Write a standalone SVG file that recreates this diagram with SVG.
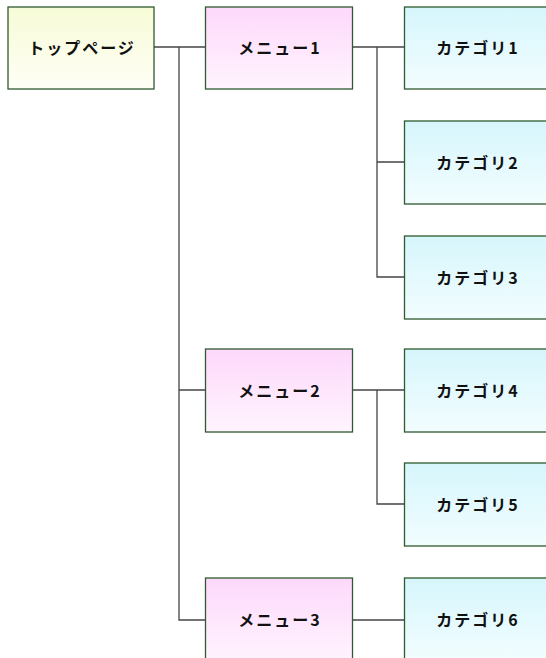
<svg xmlns="http://www.w3.org/2000/svg" width="546" height="658" viewBox="0 0 546 658">
<defs>
<linearGradient id="gTop" x1="0" y1="0" x2="0" y2="1"><stop offset="0" stop-color="#f6fbd6"/><stop offset="1" stop-color="#fffff6"/></linearGradient>
<linearGradient id="gMenu" x1="0" y1="0" x2="0" y2="1"><stop offset="0" stop-color="#fdd8fb"/><stop offset="1" stop-color="#fff4fe"/></linearGradient>
<linearGradient id="gCat" x1="0" y1="0" x2="0" y2="1"><stop offset="0" stop-color="#d6f6fc"/><stop offset="1" stop-color="#f2fdff"/></linearGradient>
<style>
.box{stroke:#2f5a2f;stroke-width:1.3}
.t{font-family:"Noto Sans CJK JP","Liberation Sans",sans-serif;font-weight:bold;font-size:16px;letter-spacing:2px;fill:#111;text-anchor:middle;dominant-baseline:central}
.c{stroke:#444;stroke-width:1.3;fill:none}
</style>
</defs>
<g id="connectors">
<path class="c" d="M153,47H205M179,47V620H205M179,390H205"/>
<path class="c" d="M352,47H404M377,47V277H404M377,162H404"/>
<path class="c" d="M352,390H404M377,390V504H404"/>
<path class="c" d="M352,620H404"/>
</g>
<g id="top"><rect class="box" x="8" y="7" width="146" height="82" fill="url(#gTop)"/><text class="t" x="82" y="47">トップページ</text></g>
<g id="menu1"><rect class="box" x="205.5" y="7" width="147" height="82" fill="url(#gMenu)"/><text class="t" x="280" y="47">メニュー1</text></g>
<g id="menu2"><rect class="box" x="205.5" y="349" width="147" height="83" fill="url(#gMenu)"/><text class="t" x="280" y="390">メニュー2</text></g>
<g id="menu3"><rect class="box" x="205.5" y="578" width="147" height="83" fill="url(#gMenu)"/><text class="t" x="280" y="619">メニュー3</text></g>
<g id="cat1"><rect class="box" x="404.5" y="7" width="147" height="82" fill="url(#gCat)"/><text class="t" x="478" y="47">カテゴリ1</text></g>
<g id="cat2"><rect class="box" x="404.5" y="121" width="147" height="83" fill="url(#gCat)"/><text class="t" x="478" y="162">カテゴリ2</text></g>
<g id="cat3"><rect class="box" x="404.5" y="236" width="147" height="83" fill="url(#gCat)"/><text class="t" x="478" y="277">カテゴリ3</text></g>
<g id="cat4"><rect class="box" x="404.5" y="349" width="147" height="83" fill="url(#gCat)"/><text class="t" x="478" y="390">カテゴリ4</text></g>
<g id="cat5"><rect class="box" x="404.5" y="463" width="147" height="83" fill="url(#gCat)"/><text class="t" x="478" y="504">カテゴリ5</text></g>
<g id="cat6"><rect class="box" x="404.5" y="578" width="147" height="83" fill="url(#gCat)"/><text class="t" x="478" y="619">カテゴリ6</text></g>
</svg>
